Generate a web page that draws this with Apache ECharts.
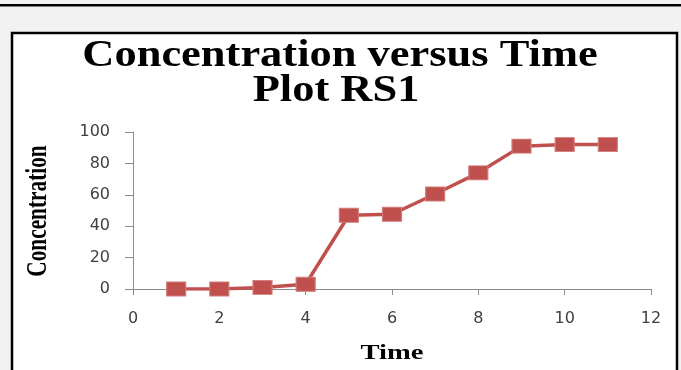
<!DOCTYPE html>
<html>
<head>
<meta charset="utf-8">
<script src="https://cdn.jsdelivr.net/npm/echarts@6/dist/echarts.min.js"></script>
<style>
html,body{margin:0;padding:0;background:#f2f2f2;}
#c{width:681px;height:370px;}
</style>
</head>
<body>
<div id="c"></div>
<script>
const timeValues = [1, 2, 3, 4, 5, 6, 7, 8, 9, 10, 11];
const concentration = [0, 0, 1, 3, 47, 47.6, 60.5, 74, 91, 92, 92];
const titleLines = ['Concentration versus Time', 'Plot RS1'];
const xName = 'Time';
const yName = 'Concentration';

const serifBold = 'bold {s}px "Liberation Serif", "Times New Roman", serif';
function font(s) { return serifBold.replace('{s}', s); }

const chart = echarts.init(document.getElementById('c'));
chart.setOption({
  backgroundColor: '#f2f2f2',
  animation: false,
  graphic: [
    {type: 'rect', z: -10, silent: true, shape: {x: 0, y: 4, width: 681, height: 2.5}, style: {fill: '#000'}},
    {type: 'rect', z: -10, silent: true, shape: {x: 12, y: 33, width: 665, height: 400}, style: {fill: '#fff', stroke: '#000', lineWidth: 2.5}},
    {type: 'text', silent: true, x: 340, y: 56, scaleX: 1.17,
      style: {text: titleLines[0], font: font(38), fill: '#000', textAlign: 'center', textVerticalAlign: 'middle'}},
    {type: 'text', silent: true, x: 336, y: 91, scaleX: 1.17,
      style: {text: titleLines[1], font: font(38), fill: '#000', textAlign: 'center', textVerticalAlign: 'middle'}},
    {type: 'text', silent: true, x: 392, y: 353, scaleX: 1.3,
      style: {text: xName, font: font(22), fill: '#000', textAlign: 'center', textVerticalAlign: 'middle'}},
    {type: 'text', silent: true, x: 38, y: 211, rotation: Math.PI / 2, scaleX: 0.71,
      style: {text: yName, font: font(30), fill: '#000', textAlign: 'center', textVerticalAlign: 'middle'}}
  ],
  grid: {left: 133, right: 30, top: 132, bottom: 81},
  xAxis: {
    type: 'value', min: 0, max: 12, interval: 2,
    axisLine: {show: true, lineStyle: {color: '#8c8c8c', width: 1}},
    axisTick: {show: true, length: 6, lineStyle: {color: '#8c8c8c'}},
    axisLabel: {margin: 22, fontFamily: 'DejaVu Sans', fontSize: 16, color: '#404040'},
    splitLine: {show: false}
  },
  yAxis: {
    type: 'value', min: 0, max: 100, interval: 20,
    axisLine: {show: true, lineStyle: {color: '#8c8c8c', width: 1}},
    axisTick: {show: true, length: 8, lineStyle: {color: '#8c8c8c'}},
    axisLabel: {margin: 23, fontFamily: 'DejaVu Sans', fontSize: 16, color: '#404040'},
    splitLine: {show: false}
  },
  series: [{
    type: 'line',
    data: timeValues.map((t, i) => [t, concentration[i]]),
    symbol: 'rect',
    symbolSize: [19, 14],
    lineStyle: {color: '#c0504d', width: 3.5},
    itemStyle: {color: '#c0504d', borderColor: '#d07a78', borderWidth: 1}
  }]
});
</script>
</body>
</html>
